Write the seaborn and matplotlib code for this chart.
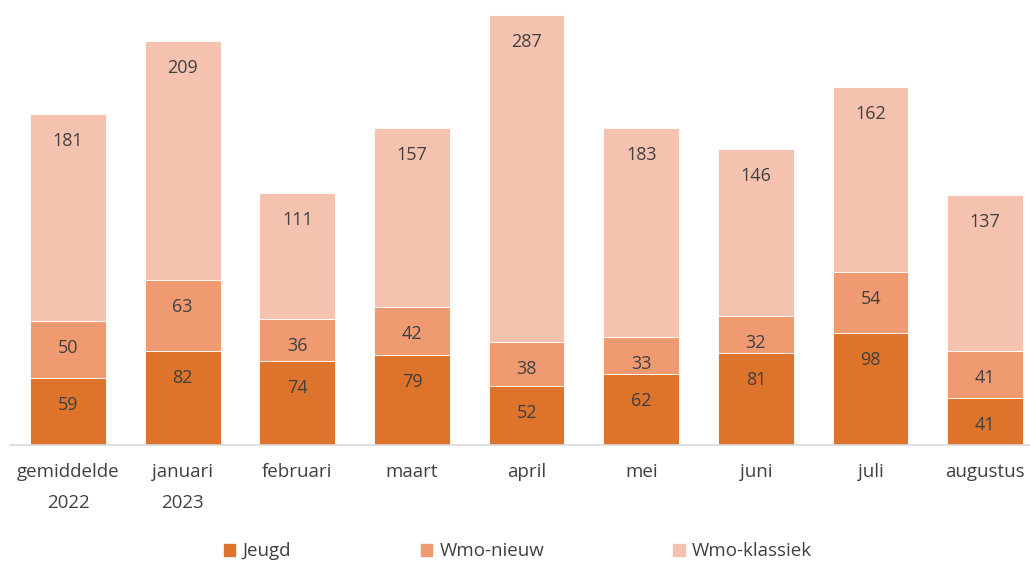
"""Stacked bars: Jeugd, Wmo-nieuw and Wmo-klassiek per month."""
import numpy as np
import pandas as pd
import seaborn as sns
import matplotlib
matplotlib.use('Agg')
import matplotlib.pyplot as plt
from matplotlib.patches import Patch

# Data.
months = ['gemiddelde\n2022', 'januari\n2023', 'februari', 'maart', 'april',
          'mei', 'juni', 'juli', 'augustus']
jeugd = [59, 82, 74, 79, 52, 62, 81, 98, 41]
wmo_nieuw = [50, 63, 36, 42, 38, 33, 32, 54, 41]
wmo_klassiek = [181, 209, 111, 157, 287, 183, 146, 162, 137]

series = ['Jeugd', 'Wmo-nieuw', 'Wmo-klassiek']
colors = ['#DE732C', '#F09A72', '#F6C2B0']
text_color = '#404040'

sns.set_style('white')
plt.rcParams['font.family'] = ['Open Sans', 'DejaVu Sans']

df = pd.DataFrame({'month': months, 'Jeugd': jeugd,
                   'Wmo-nieuw': wmo_nieuw, 'Wmo-klassiek': wmo_klassiek})

fig = plt.figure(figsize=(10.3, 5.63), dpi=100)
ax = fig.add_axes([10 / 1030, 1 - 445 / 563, 1020 / 1030, 445 / 563])

bottom = np.zeros(len(months))
for name, col in zip(series, colors):
    sns.barplot(data=df, x='month', y=name, color=col, width=0.66,
                bottom=bottom, edgecolor='white', linewidth=0.6, ax=ax,
                saturation=1)
    vals = df[name].values
    top = bottom + vals
    for i, v in enumerate(vals):
        # labels sit near the inside end of each segment
        ax.annotate(str(v), xy=(i, top[i]), xytext=(0, -27),
                    textcoords='offset pixels', ha='center', va='center',
                    fontsize=13, color=text_color)
    bottom = top

ax.set_ylim(0, 390)
ax.set_xlim(-0.506, 8.39)
ax.set_xlabel('')
ax.set_ylabel('')
ax.set_yticks([])
sns.despine(ax=ax, left=True, top=True, right=True)
ax.spines['bottom'].set_color('#D9D9D9')
ax.spines['bottom'].set_linewidth(1.2)
ax.tick_params(axis='x', length=0, pad=13, labelsize=13.5,
               labelcolor=text_color)
for lbl in ax.get_xticklabels():
    lbl.set_linespacing(1.9)

handles = [Patch(color=c, label=s) for s, c in zip(series, colors)]
fig.legend(handles=handles, loc='center', bbox_to_anchor=(0.503, 0.021),
           ncol=3, frameon=False, fontsize=13.5, handlelength=0.6,
           handleheight=0.6, handletextpad=0.4, columnspacing=6.9,
           labelcolor=text_color)

fig.savefig('out.png', dpi=100)
